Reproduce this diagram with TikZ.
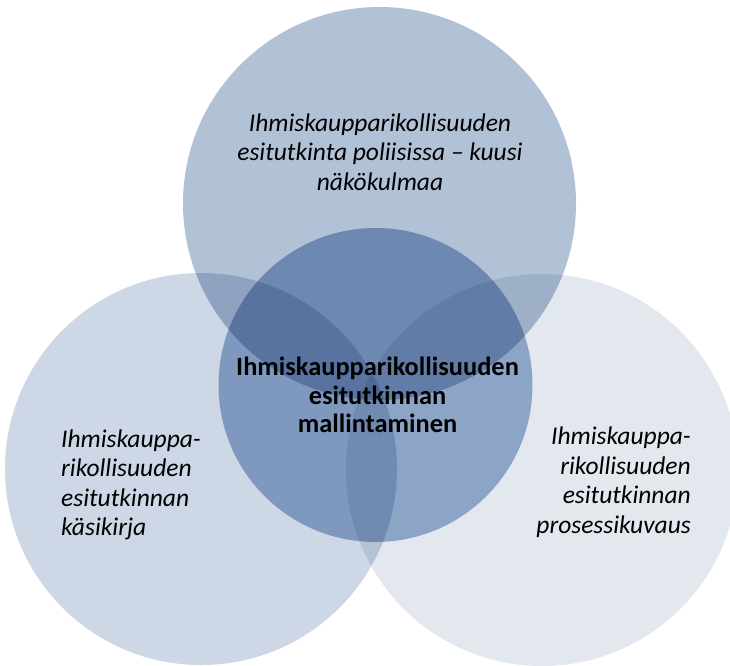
\documentclass[tikz,border=0pt]{standalone}
\usepackage{fontspec}
\setmainfont{Carlito}
\definecolor{toptint}{RGB}{178,194,214}
\definecolor{lefttint}{RGB}{205,215,229}
\definecolor{righttint}{RGB}{227,232,239}
\definecolor{midtint}{RGB}{158,181,212}
\begin{document}
\begin{tikzpicture}[x=1pt,y=-1pt,
  venn/.style={circle, inner sep=0pt, minimum size=#1, draw=none},
  lbl/.style={inner sep=0pt, text=black, font=\fontsize{25.5}{29.5}\selectfont\itshape},
  core/.style={inner sep=0pt, text=black, font=\fontsize{26.4}{28.5}\selectfont\bfseries, align=center}
]
\useasboundingbox (0,0) rectangle (730,665);
\fill[white] (0,0) rectangle (730,665);

% three outer circles and the central one, overlapping by multiplication
\begin{scope}[blend group=multiply]
\node[venn=393pt, fill=toptint]   (top)   at (379.5,203.5) {};
\node[venn=392pt, fill=lefttint]  (left)  at (201,469) {};
\node[venn=392pt, fill=righttint] (right) at (542,470) {};
\node[venn=314pt, fill=midtint]   (mid)   at (375.5,385) {};
\end{scope}

% labels
\node[lbl, align=center] (ttop) at (380,152)
  {Ihmiskaupparikollisuuden\\esitutkinta poliisissa -- kuusi\\näkökulmaa};
\node[lbl, align=left, anchor=west] (tleft) at (61,485)
  {Ihmiskauppa-\\rikollisuuden\\esitutkinnan\\käsikirja};
\node[lbl, align=right, anchor=east] (tright) at (691,482)
  {Ihmiskauppa-\\rikollisuuden\\esitutkinnan\\prosessikuvaus};
\node[core] (tmid) at (377.5,395)
  {Ihmiskaupparikollisuuden\\esitutkinnan\\mallintaminen};
\end{tikzpicture}
\end{document}
